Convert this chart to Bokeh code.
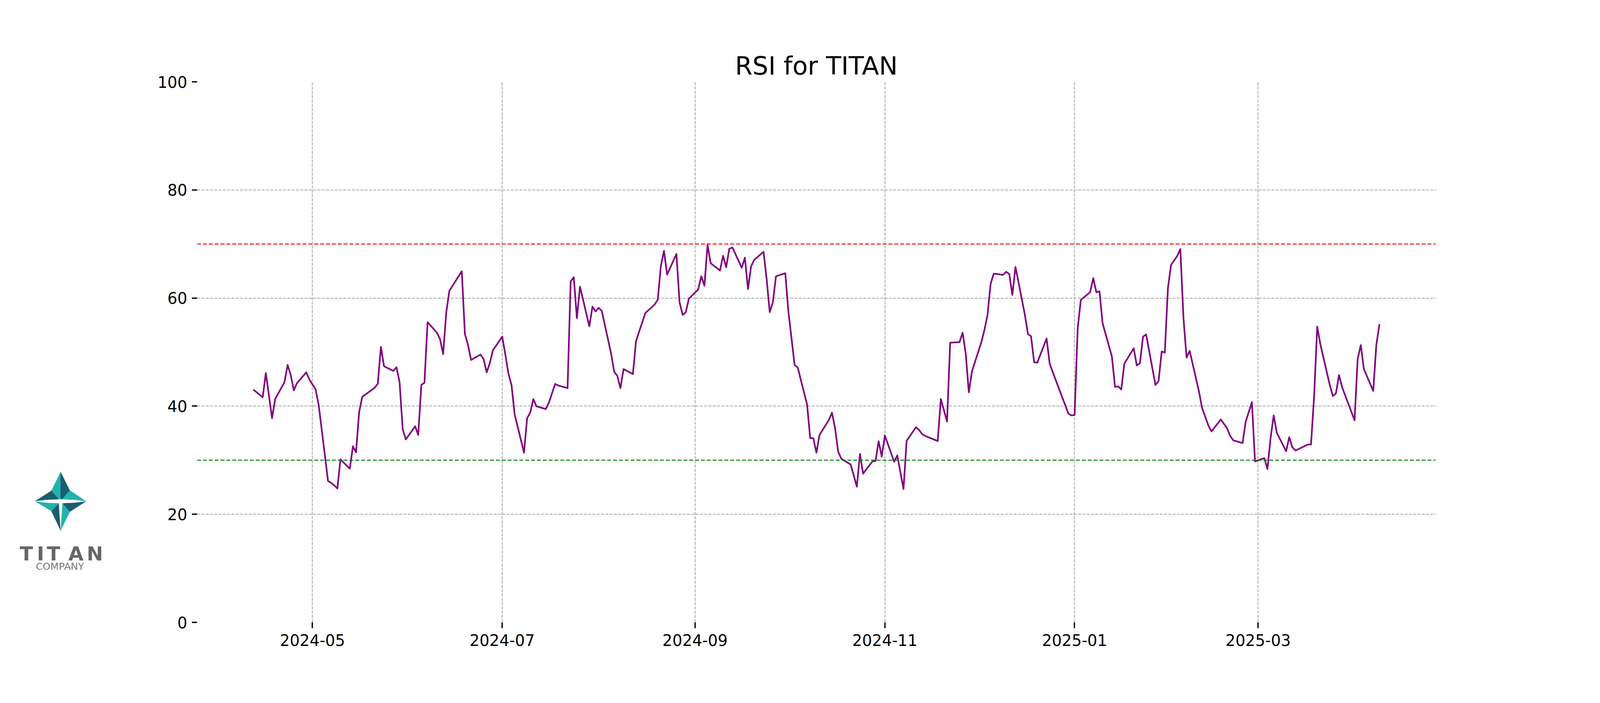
import pandas as pd
from bokeh.plotting import figure
from bokeh.layouts import row
from bokeh.models import Range1d, Span, FixedTicker, DatetimeTickFormatter, ColumnDataSource
from bokeh.embed import file_html
from bokeh.resources import INLINE
from bokeh.core.properties import value

# ---------------- data ----------------
dates = [
    "2024-04-12", "2024-04-15", "2024-04-16", "2024-04-18", "2024-04-19", "2024-04-22", "2024-04-23",
    "2024-04-24", "2024-04-25", "2024-04-26", "2024-04-29", "2024-04-30", "2024-05-02", "2024-05-03",
    "2024-05-06", "2024-05-07", "2024-05-08", "2024-05-09", "2024-05-10", "2024-05-13", "2024-05-14",
    "2024-05-15", "2024-05-16", "2024-05-17", "2024-05-21", "2024-05-22", "2024-05-23", "2024-05-24",
    "2024-05-27", "2024-05-28", "2024-05-29", "2024-05-30", "2024-05-31", "2024-06-03", "2024-06-04",
    "2024-06-05", "2024-06-06", "2024-06-07", "2024-06-10", "2024-06-11", "2024-06-12", "2024-06-13",
    "2024-06-14", "2024-06-18", "2024-06-19", "2024-06-20", "2024-06-21", "2024-06-24", "2024-06-25",
    "2024-06-26", "2024-06-27", "2024-06-28", "2024-07-01", "2024-07-02", "2024-07-03", "2024-07-04",
    "2024-07-05", "2024-07-08", "2024-07-09", "2024-07-10", "2024-07-11", "2024-07-12", "2024-07-15",
    "2024-07-16", "2024-07-18", "2024-07-19", "2024-07-22", "2024-07-23", "2024-07-24", "2024-07-25",
    "2024-07-26", "2024-07-29", "2024-07-30", "2024-07-31", "2024-08-01", "2024-08-02", "2024-08-05",
    "2024-08-06", "2024-08-07", "2024-08-08", "2024-08-09", "2024-08-12", "2024-08-13", "2024-08-14",
    "2024-08-16", "2024-08-19", "2024-08-20", "2024-08-21", "2024-08-22", "2024-08-23", "2024-08-26",
    "2024-08-27", "2024-08-28", "2024-08-29", "2024-08-30", "2024-09-02", "2024-09-03", "2024-09-04",
    "2024-09-05", "2024-09-06", "2024-09-09", "2024-09-10", "2024-09-11", "2024-09-12", "2024-09-13",
    "2024-09-16", "2024-09-17", "2024-09-18", "2024-09-19", "2024-09-20", "2024-09-23", "2024-09-24",
    "2024-09-25", "2024-09-26", "2024-09-27", "2024-09-30", "2024-10-01", "2024-10-03", "2024-10-04",
    "2024-10-07", "2024-10-08", "2024-10-09", "2024-10-10", "2024-10-11", "2024-10-14", "2024-10-15",
    "2024-10-16", "2024-10-17", "2024-10-18", "2024-10-21", "2024-10-22", "2024-10-23", "2024-10-24",
    "2024-10-25", "2024-10-28", "2024-10-29", "2024-10-30", "2024-10-31", "2024-11-01", "2024-11-04",
    "2024-11-05", "2024-11-07", "2024-11-08", "2024-11-11", "2024-11-12", "2024-11-13", "2024-11-14",
    "2024-11-18", "2024-11-19", "2024-11-21", "2024-11-22", "2024-11-25", "2024-11-26", "2024-11-27",
    "2024-11-28", "2024-11-29", "2024-12-02", "2024-12-03", "2024-12-04", "2024-12-05", "2024-12-06",
    "2024-12-09", "2024-12-10", "2024-12-11", "2024-12-12", "2024-12-13", "2024-12-16", "2024-12-17",
    "2024-12-18", "2024-12-19", "2024-12-20", "2024-12-23", "2024-12-24", "2024-12-30", "2024-12-31",
    "2025-01-01", "2025-01-02", "2025-01-03", "2025-01-06", "2025-01-07", "2025-01-08", "2025-01-09",
    "2025-01-10", "2025-01-13", "2025-01-14", "2025-01-15", "2025-01-16", "2025-01-17", "2025-01-20",
    "2025-01-21", "2025-01-22", "2025-01-23", "2025-01-24", "2025-01-27", "2025-01-28", "2025-01-29",
    "2025-01-30", "2025-01-31", "2025-02-01", "2025-02-03", "2025-02-04", "2025-02-05", "2025-02-06",
    "2025-02-07", "2025-02-10", "2025-02-11", "2025-02-13", "2025-02-14", "2025-02-17", "2025-02-19",
    "2025-02-20", "2025-02-21", "2025-02-24", "2025-02-25", "2025-02-27", "2025-02-28", "2025-03-03",
    "2025-03-04", "2025-03-05", "2025-03-06", "2025-03-07", "2025-03-10", "2025-03-11", "2025-03-12",
    "2025-03-13", "2025-03-17", "2025-03-18", "2025-03-19", "2025-03-20", "2025-03-21", "2025-03-24",
    "2025-03-25", "2025-03-26", "2025-03-27", "2025-03-28", "2025-04-01", "2025-04-02", "2025-04-03",
    "2025-04-04", "2025-04-07", "2025-04-08", "2025-04-09",
]
rsi = [
    43.06, 41.65, 46.12, 37.78, 41.31, 44.44, 47.63,
    45.78, 42.93, 44.24, 46.26, 44.94, 43.09, 40.20,
    26.17, 25.80, 25.34, 24.76, 30.14, 28.43, 32.57,
    31.46, 38.89, 41.71, 43.40, 44.17, 50.96, 47.37,
    46.52, 47.20, 44.44, 35.76, 33.84, 36.27, 34.68,
    43.93, 44.34, 55.54, 53.59, 52.41, 49.65, 57.29,
    61.32, 64.96, 53.35, 51.30, 48.54, 49.55, 48.71,
    46.26, 47.94, 50.33, 52.85, 49.55, 46.02, 43.83,
    38.45, 31.39, 37.78, 38.79, 41.31, 39.97, 39.46,
    40.64, 44.10, 43.83, 43.33, 63.07, 63.85, 56.28,
    62.10, 54.77, 58.40, 57.52, 58.20, 57.62, 49.72,
    46.36, 45.60, 43.33, 46.86, 45.92, 51.97, 53.76,
    57.22, 58.80, 59.71, 65.97, 68.72, 64.35, 68.15,
    59.24, 56.88, 57.36, 59.88, 61.59, 64.02, 62.27,
    69.80, 66.44, 65.09, 67.82, 65.70, 69.13, 69.33,
    65.60, 67.48, 61.66, 65.87, 67.04, 68.56, 63.51,
    57.39, 59.21, 64.02, 64.59, 57.46, 47.60, 47.13,
    40.30, 34.08, 34.08, 31.39, 34.68, 37.44, 38.79,
    35.93, 31.56, 30.28, 29.20, 27.18, 25.10, 31.15,
    27.52, 29.77, 29.84, 33.51, 30.65, 34.58, 29.71,
    30.88, 24.66, 33.58, 36.10, 35.59, 34.82, 34.48,
    33.54, 41.31, 37.17, 51.74, 51.84, 53.59, 49.72,
    42.56, 46.42, 51.81, 54.03, 56.85, 62.60, 64.52,
    64.28, 64.86, 64.45, 60.58, 65.76, 56.95, 53.35,
    52.92, 48.11, 48.04, 52.51, 47.80, 38.62, 38.28,
    38.38, 54.43, 59.64, 61.09, 63.68, 61.06, 61.26,
    55.34, 49.15, 43.56, 43.66, 43.09, 47.87, 50.70,
    47.53, 47.94, 52.85, 53.25, 43.90, 44.68, 50.12,
    49.89, 61.83, 66.10, 67.78, 69.06, 56.28, 48.98,
    50.22, 42.66, 39.63, 36.43, 35.32, 37.54, 35.93,
    34.52, 33.68, 33.17, 37.11, 40.74, 29.77, 30.38,
    28.36, 34.08, 38.28, 35.09, 31.66, 34.25, 32.40,
    31.79, 32.90, 32.90, 41.82, 54.70, 51.47, 44.00,
    41.88, 42.32, 45.75, 43.50, 37.38, 48.71, 51.30,
    46.86, 42.82, 51.30, 55.17,
]
overbought = 70
oversold = 30
y_ticks = [0, 20, 40, 60, 80, 100]
y_grid_ticks = [20, 40, 60, 80]
x_tick_labels = ["2024-05", "2024-07", "2024-09", "2024-11", "2025-01", "2025-03"]
title_text = "RSI for TITAN"

# logo artwork (decorative, reference-pixel coordinates)
logo_facets_x = [
    [190.6, 190.6, 163.0], [190.6, 190.6, 218.0], [190.6, 267.0, 218.0], [190.6, 267.0, 218.0],
    [190.6, 190.6, 218.0], [190.6, 190.6, 163.0], [190.6, 113.8, 163.0], [190.6, 113.8, 163.0],
]
logo_facets_y = [
    [1291, 1216, 1264], [1291, 1216, 1263], [1291, 1291, 1263], [1291, 1291, 1318],
    [1291, 1366, 1318], [1291, 1366, 1316], [1291, 1291, 1316], [1291, 1291, 1264],
]
logo_facet_colors = ["#22b3ad", "#1b5d6e", "#22b3ad", "#1b5d6e",
                     "#22b3ad", "#1b5d6e", "#22b3ad", "#1b5d6e"]
logo_white_x = [[113.8, 150, 190.6, 231, 267, 231, 190.6, 150], [185.0, 196.2, 190.6]]
logo_white_y = [[1291, 1287.5, 1286, 1287.5, 1291, 1294.5, 1296, 1294.5], [1291, 1291, 1364]]
logo_letters = ["T", "I", "T", "A", "N"]
logo_letter_x = [88, 130.5, 169.5, 236.5, 293.5]

# ---------------- figure ----------------
dt = pd.to_datetime(dates)
span = dt[-1] - dt[0]
x_start = dt[0] - 0.05 * span
x_end = dt[-1] + 0.05 * span
src = ColumnDataSource(dict(date=dt, rsi=rsi))

x_tick_ms = [pd.Timestamp(s + "-01").value / 1e6 for s in x_tick_labels]

FONT = "DejaVu Sans"
TOP, BOTTOM = 209, 191          # borders so the frame spans page y 217..1601

p = figure(width=3748, height=1784, x_axis_type="datetime",
           x_range=Range1d(x_start, x_end), y_range=Range1d(0, 100),
           toolbar_location=None, output_backend="svg",
           min_border_left=172, min_border_right=405,
           min_border_top=TOP, min_border_bottom=BOTTOM,
           title=title_text)
p.outline_line_color = None
p.background_fill_color = "white"
p.border_fill_color = "white"

p.title.align = "center"
p.title.text_font = FONT
p.title.text_font_size = "64px"
p.title.text_font_style = "normal"
p.title.text_color = "black"
p.title.standoff = 8

p.line(x="date", y="rsi", source=src, line_color="purple", line_width=4.2, line_join="round")

p.add_layout(Span(location=overbought, dimension="width", line_color="red",
                  line_dash="10 5", line_width=2.5))
p.add_layout(Span(location=oversold, dimension="width", line_color="green",
                  line_dash="10 5", line_width=2.5))

p.xaxis.ticker = FixedTicker(ticks=x_tick_ms)
p.xaxis.formatter = DatetimeTickFormatter(
    milliseconds="%Y-%m", seconds="%Y-%m", minsec="%Y-%m", minutes="%Y-%m",
    hourmin="%Y-%m", hours="%Y-%m", days="%Y-%m", months="%Y-%m", years="%Y-%m")
p.yaxis.ticker = FixedTicker(ticks=y_ticks)

p.xgrid.ticker = FixedTicker(ticks=x_tick_ms)
p.ygrid.ticker = FixedTicker(ticks=y_grid_ticks)
p.grid.grid_line_color = "#a6a6a6"
p.grid.grid_line_width = 2.1
p.grid.grid_line_dash = "8 3"

for ax in (p.xaxis, p.yaxis):
    ax.axis_line_color = None
    ax.major_tick_in = 0
    ax.major_tick_line_width = 3.3
    ax.major_tick_line_color = "black"
    ax.minor_tick_line_color = None
    ax.major_label_text_font = FONT
    ax.major_label_text_font_size = "40px"
    ax.major_label_text_color = "black"
p.xaxis.major_tick_out = 15
p.xaxis.major_label_standoff = 15
p.yaxis.major_tick_out = 13
p.yaxis.major_label_standoff = 12

# ---------------- logo panel ----------------
logo = figure(width=332, height=1784, x_range=Range1d(9.4, 398.4), y_range=Range1d(1601, 217),
              toolbar_location=None, output_backend="svg",
              min_border_left=0, min_border_right=0,
              min_border_top=TOP, min_border_bottom=BOTTOM,
              x_axis_location=None, y_axis_location=None)
logo.grid.visible = False
logo.outline_line_color = None
logo.patches(xs=logo_facets_x, ys=logo_facets_y, fill_color=logo_facet_colors,
             line_color=logo_facet_colors, line_width=0.5)
logo.patches(xs=logo_white_x, ys=logo_white_y, fill_color="white", line_color="white", line_width=0.5)
logo.text(x=logo_letter_x, y=[1425] * len(logo_letters), text=logo_letters,
          text_font=value(FONT), text_font_size="50px", text_font_style="bold",
          text_color="#666666", text_align="center", text_baseline="alphabetic")
logo.text(x=[188.5], y=[1457.6], text=["COMPANY"], text_font=value(FONT), text_font_size="25px",
          text_color="#777777", text_align="center", text_baseline="alphabetic")

layout = row(logo, p)
open("out.html", "w").write(file_html(layout, INLINE))
